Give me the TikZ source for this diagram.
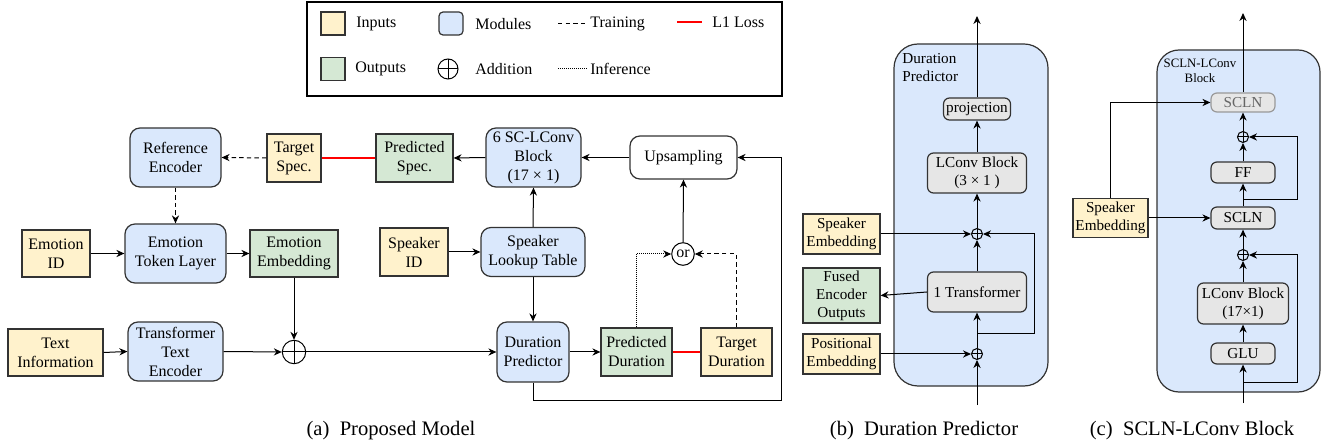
\documentclass[tikz,border=0pt]{standalone}
\usepackage{fontspec}
\setmainfont{Liberation Serif}
\usetikzlibrary{arrows.meta}
\definecolor{inpcol}{HTML}{FFF2CC}
\definecolor{outcol}{HTML}{D5E8D4}
\definecolor{modcol}{HTML}{DAE8FC}
\definecolor{subcol}{HTML}{E6E6E6}
\definecolor{edgecol}{HTML}{333333}
\definecolor{losscol}{HTML}{FF0000}
\begin{document}
\begin{tikzpicture}[x=0.5pt,y=-0.5pt,
  >={Stealth[length=4pt,width=3.6pt,inset=1.3pt]},
  every node/.style={font=\fontsize{8}{9.5}\selectfont},
  box/.style={draw=edgecol,line width=0.6pt,align=center,inner sep=0pt},
  inbox/.style={box,fill=inpcol},
  outbox/.style={box,fill=outcol},
  modbox/.style={box,fill=modcol,rounded corners=5pt},
  subbox/.style={box,fill=subcol,rounded corners=3pt,font=\fontsize{7.6}{9}\selectfont},
  smallfont/.style={font=\fontsize{7.6}{9}\selectfont},
  addnode/.style={draw,circle,line width=0.5pt,inner sep=0pt,minimum size=#1,
    path picture={\draw[line width=0.5pt]
      (path picture bounding box.north)--(path picture bounding box.south)
      (path picture bounding box.west)--(path picture bounding box.east);}},
  addnode/.default=5.5pt,
  conn/.style={line width=0.5pt,->},
  loss/.style={line width=1.2pt,draw=losscol},
  train/.style={dash pattern=on 2.2pt off 1.6pt},
  infer/.style={dash pattern=on 0.5pt off 0.5pt},
  caption/.style={font=\fontsize{10.3}{12}\selectfont}]
\useasboundingbox (0,0) rectangle (1332,448);

% legend
\draw[line width=0.8pt] (307,2) rectangle (782,96);
\node[inbox,minimum width=12pt,minimum height=11.5pt] (leginp) at (333,23.5) {};
\node[anchor=west,inner sep=0pt] at (356,24) {Inputs};
\node[modbox,rounded corners=2pt,minimum width=12pt,minimum height=11.5pt] (legmod) at (451,23.5) {};
\node[anchor=west,inner sep=0pt] at (475,24) {Modules};
\draw[line width=0.5pt,train] (558,24) -- (587,24);
\node[anchor=west,inner sep=0pt] at (590,24) {Training};
\draw[loss] (677,22) -- (702,22);
\node[anchor=west,inner sep=0pt] at (712,22) {L1 Loss};
\node[outbox,minimum width=12pt,minimum height=11.5pt] (legout) at (333,69) {};
\node[anchor=west,inner sep=0pt] at (355,69) {Outputs};
\node[addnode=10pt] (legadd) at (448,69) {};
\node[anchor=west,inner sep=0pt] at (475,69) {Addition};
\draw[line width=0.5pt,infer] (558,69) -- (587,69);
\node[anchor=west,inner sep=0pt] at (590,69) {Inference};

% (a) proposed model
\node[modbox,minimum width=45.5pt,minimum height=29.5pt] (refenc) at (175.5,157.5) {Reference\\Encoder};
\node[inbox,minimum width=27pt,minimum height=24pt] (tgtspec) at (294,158) {Target\\Spec.};
\node[outbox,minimum width=38.5pt,minimum height=24pt] (predspec) at (414.5,158) {Predicted\\Spec.};
\node[inbox,minimum width=34pt,minimum height=23.5pt] (emoid) at (56,253.5) {Emotion\\ID};
\node[modbox,minimum width=50.5pt,minimum height=29.5pt] (emotok) at (175.5,253.5) {Emotion\\Token Layer};
\node[outbox,minimum width=44pt,minimum height=23.5pt] (emoemb) at (294,253.5) {Emotion\\Embedding};
\node[inbox,minimum width=34pt,minimum height=24pt] (spkid) at (414,252) {Speaker\\ID};
\node[inbox,minimum width=47.5pt,minimum height=23.5pt] (textinfo) at (55.5,352.5) {Text\\Information};
\node[modbox,minimum width=47.5pt,minimum height=29.5pt] (textenc) at (175.5,351.5) {Transformer\\Text\\Encoder};
\node[addnode=11.7pt] (addsum) at (294,352) {};
\node[modbox,minimum width=47.5pt,minimum height=29.5pt] (scblock) at (533.5,157.5) {6 SC-LConv\\Block\\(17 × 1)};
\node[box,fill=white,rounded corners=5pt,minimum width=53.5pt,minimum height=21.5pt] (upsamp) at (683.5,157.5) {Upsampling};
\node[modbox,minimum width=52pt,minimum height=24.5pt] (spklut) at (533,252) {Speaker\\Lookup Table};
\node[modbox,minimum width=36pt,minimum height=30pt] (durpred) at (533,352) {Duration\\Predictor};
\node[outbox,minimum width=35.5pt,minimum height=24pt] (predur) at (636.5,352) {Predicted\\Duration};
\node[inbox,minimum width=35.5pt,minimum height=24pt] (tgtdur) at (736.5,352) {Target\\Duration};
\node[draw,circle,line width=0.5pt,inner sep=0pt,minimum size=11.3pt] (ornode) at (683,254) {or};
\coordinate (loopc) at (781,400);

\draw[conn,train] (tgtspec.west) -- (refenc.east);
\draw[loss] (tgtspec.east) -- (predspec.west);
\draw[conn,train] (refenc.south) -- (emotok.north);
\draw[conn] (emoid.east) -- (emotok.west);
\draw[conn] (emotok.east) -- (emoemb.west);
\draw[conn] (textinfo.east) -- (textenc.west);
\draw[conn] (textenc.east) -- (addsum.west);
\draw[conn] (emoemb.south) -- (addsum.north);
\draw[conn] (addsum.east) -- (durpred.west);
\draw[conn] (spkid.east) -- (spklut.west);
\draw[conn] (spklut.north) -- (scblock.south);
\draw[conn] (spklut.south) -- (durpred.north);
\draw[conn] (scblock.west) -- (predspec.east);
\draw[conn] (upsamp.west) -- (scblock.east);
\draw[conn] (durpred.east) -- (predur.west);
\draw[loss] (predur.east) -- (tgtdur.west);
\draw[conn,infer] (predur.north) |- (ornode.west);
\draw[conn,train] (tgtdur.north) |- (ornode.east);
\draw[conn] (ornode.north) -- (upsamp.south);
\draw[conn] (durpred.south) |- (loopc) |- (upsamp.east);

\node[caption] at (391,431) {(a)~~Proposed Model};

% (b) duration predictor
\node[draw=edgecol,line width=0.6pt,fill=modcol,rounded corners=12pt,minimum width=77pt,minimum height=171pt] (dpbox) at (971,215) {};
\node[smallfont,anchor=north west,align=left,inner sep=0pt] at (902,53) {Duration\\Predictor};
\node[subbox,minimum width=33.5pt,minimum height=11pt] (proj) at (977,109) {projection};
\node[subbox,minimum width=49.5pt,minimum height=20pt] (lconvb) at (977,173) {LConv Block\\(3 × 1 )};
\node[subbox,minimum width=49.5pt,minimum height=20pt] (transf) at (977,292) {1 Transformer};
\node[addnode] (spkadd) at (977,234) {};
\node[addnode] (posadd) at (977,354) {};
\node[inbox,smallfont,minimum width=38.5pt,minimum height=20pt] (spkembb) at (841.5,234) {Speaker\\Embedding};
\node[outbox,smallfont,minimum width=38.5pt,minimum height=27.5pt] (fusedout) at (841.5,295.5) {Fused\\Encoder\\Outputs};
\node[inbox,smallfont,minimum width=38.5pt,minimum height=20pt] (posemb) at (841.5,354) {Positional\\Embedding};
\coordinate (dpin) at (977,405);
\coordinate (dpout) at (977,16);
\coordinate (dpres) at (977,334);
\coordinate (dpresr) at (1034,334);

\draw[conn] (dpin) -- (posadd.south);
\draw[conn] (posadd.north) -- (transf.south);
\draw[conn] (transf.north) -- (spkadd.south);
\draw[conn] (spkadd.north) -- (lconvb.south);
\draw[conn] (lconvb.north) -- (proj.south);
\draw[conn] (proj.north) -- (dpout);
\draw[conn] (dpres) -- (dpresr) |- (spkadd.east);
\draw[conn] (spkembb.east) -- (spkadd.west);
\draw[conn] (posemb.east) -- (posadd.west);
\draw[conn] (transf.west) -- (fusedout.east);

\node[caption] at (924,431) {(b)~~Duration Predictor};

% (c) SCLN-LConv block
\node[draw=edgecol,line width=0.6pt,fill=modcol,rounded corners=11pt,minimum width=81.5pt,minimum height=171pt] (sclnbox) at (1238.5,221) {};
\node[font=\fontsize{6.4}{7.5}\selectfont,anchor=north,align=center,inner sep=0pt] at (1200,59) {SCLN-LConv\\Block};
\node[subbox,draw=gray!80,text=black!60,minimum width=32pt,minimum height=9.5pt] (sclntop) at (1243,102.5) {SCLN};
\node[addnode] (addone) at (1243,137) {};
\node[subbox,minimum width=32pt,minimum height=10.5pt] (ffbox) at (1243,172.5) {FF};
\node[subbox,minimum width=32pt,minimum height=11pt] (sclnmid) at (1243,218) {SCLN};
\node[addnode] (addtwo) at (1243,255) {};
\node[subbox,minimum width=45.5pt,minimum height=20.5pt] (lconvc) at (1243,303.5) {LConv Block\\(17×1)};
\node[subbox,minimum width=32pt,minimum height=10.5pt] (glubox) at (1243,353.5) {GLU};
\node[inbox,smallfont,minimum width=37.5pt,minimum height=19.5pt] (spkembc) at (1110.5,218) {Speaker\\Embedding};
\coordinate (cin) at (1243,403);
\coordinate (cout) at (1243,13);
\coordinate (resa) at (1243,383);
\coordinate (resar) at (1297,383);
\coordinate (resb) at (1243,200);
\coordinate (resbr) at (1297,200);

\draw[conn] (cin) -- (glubox.south);
\draw[conn] (glubox.north) -- (lconvc.south);
\draw[conn] (lconvc.north) -- (addtwo.south);
\draw[conn] (addtwo.north) -- (sclnmid.south);
\draw[conn] (sclnmid.north) -- (ffbox.south);
\draw[conn] (ffbox.north) -- (addone.south);
\draw[conn] (addone.north) -- (sclntop.south);
\draw[conn] (sclntop.north) -- (cout);
\draw[conn] (resa) -- (resar) |- (addtwo.east);
\draw[conn] (resb) -- (resbr) |- (addone.east);
\draw[conn] (spkembc.east) -- (sclnmid.west);
\draw[conn] (spkembc.north) |- (sclntop.west);

\node[caption] at (1192,431) {(c)~~SCLN-LConv Block};
\end{tikzpicture}
\end{document}
